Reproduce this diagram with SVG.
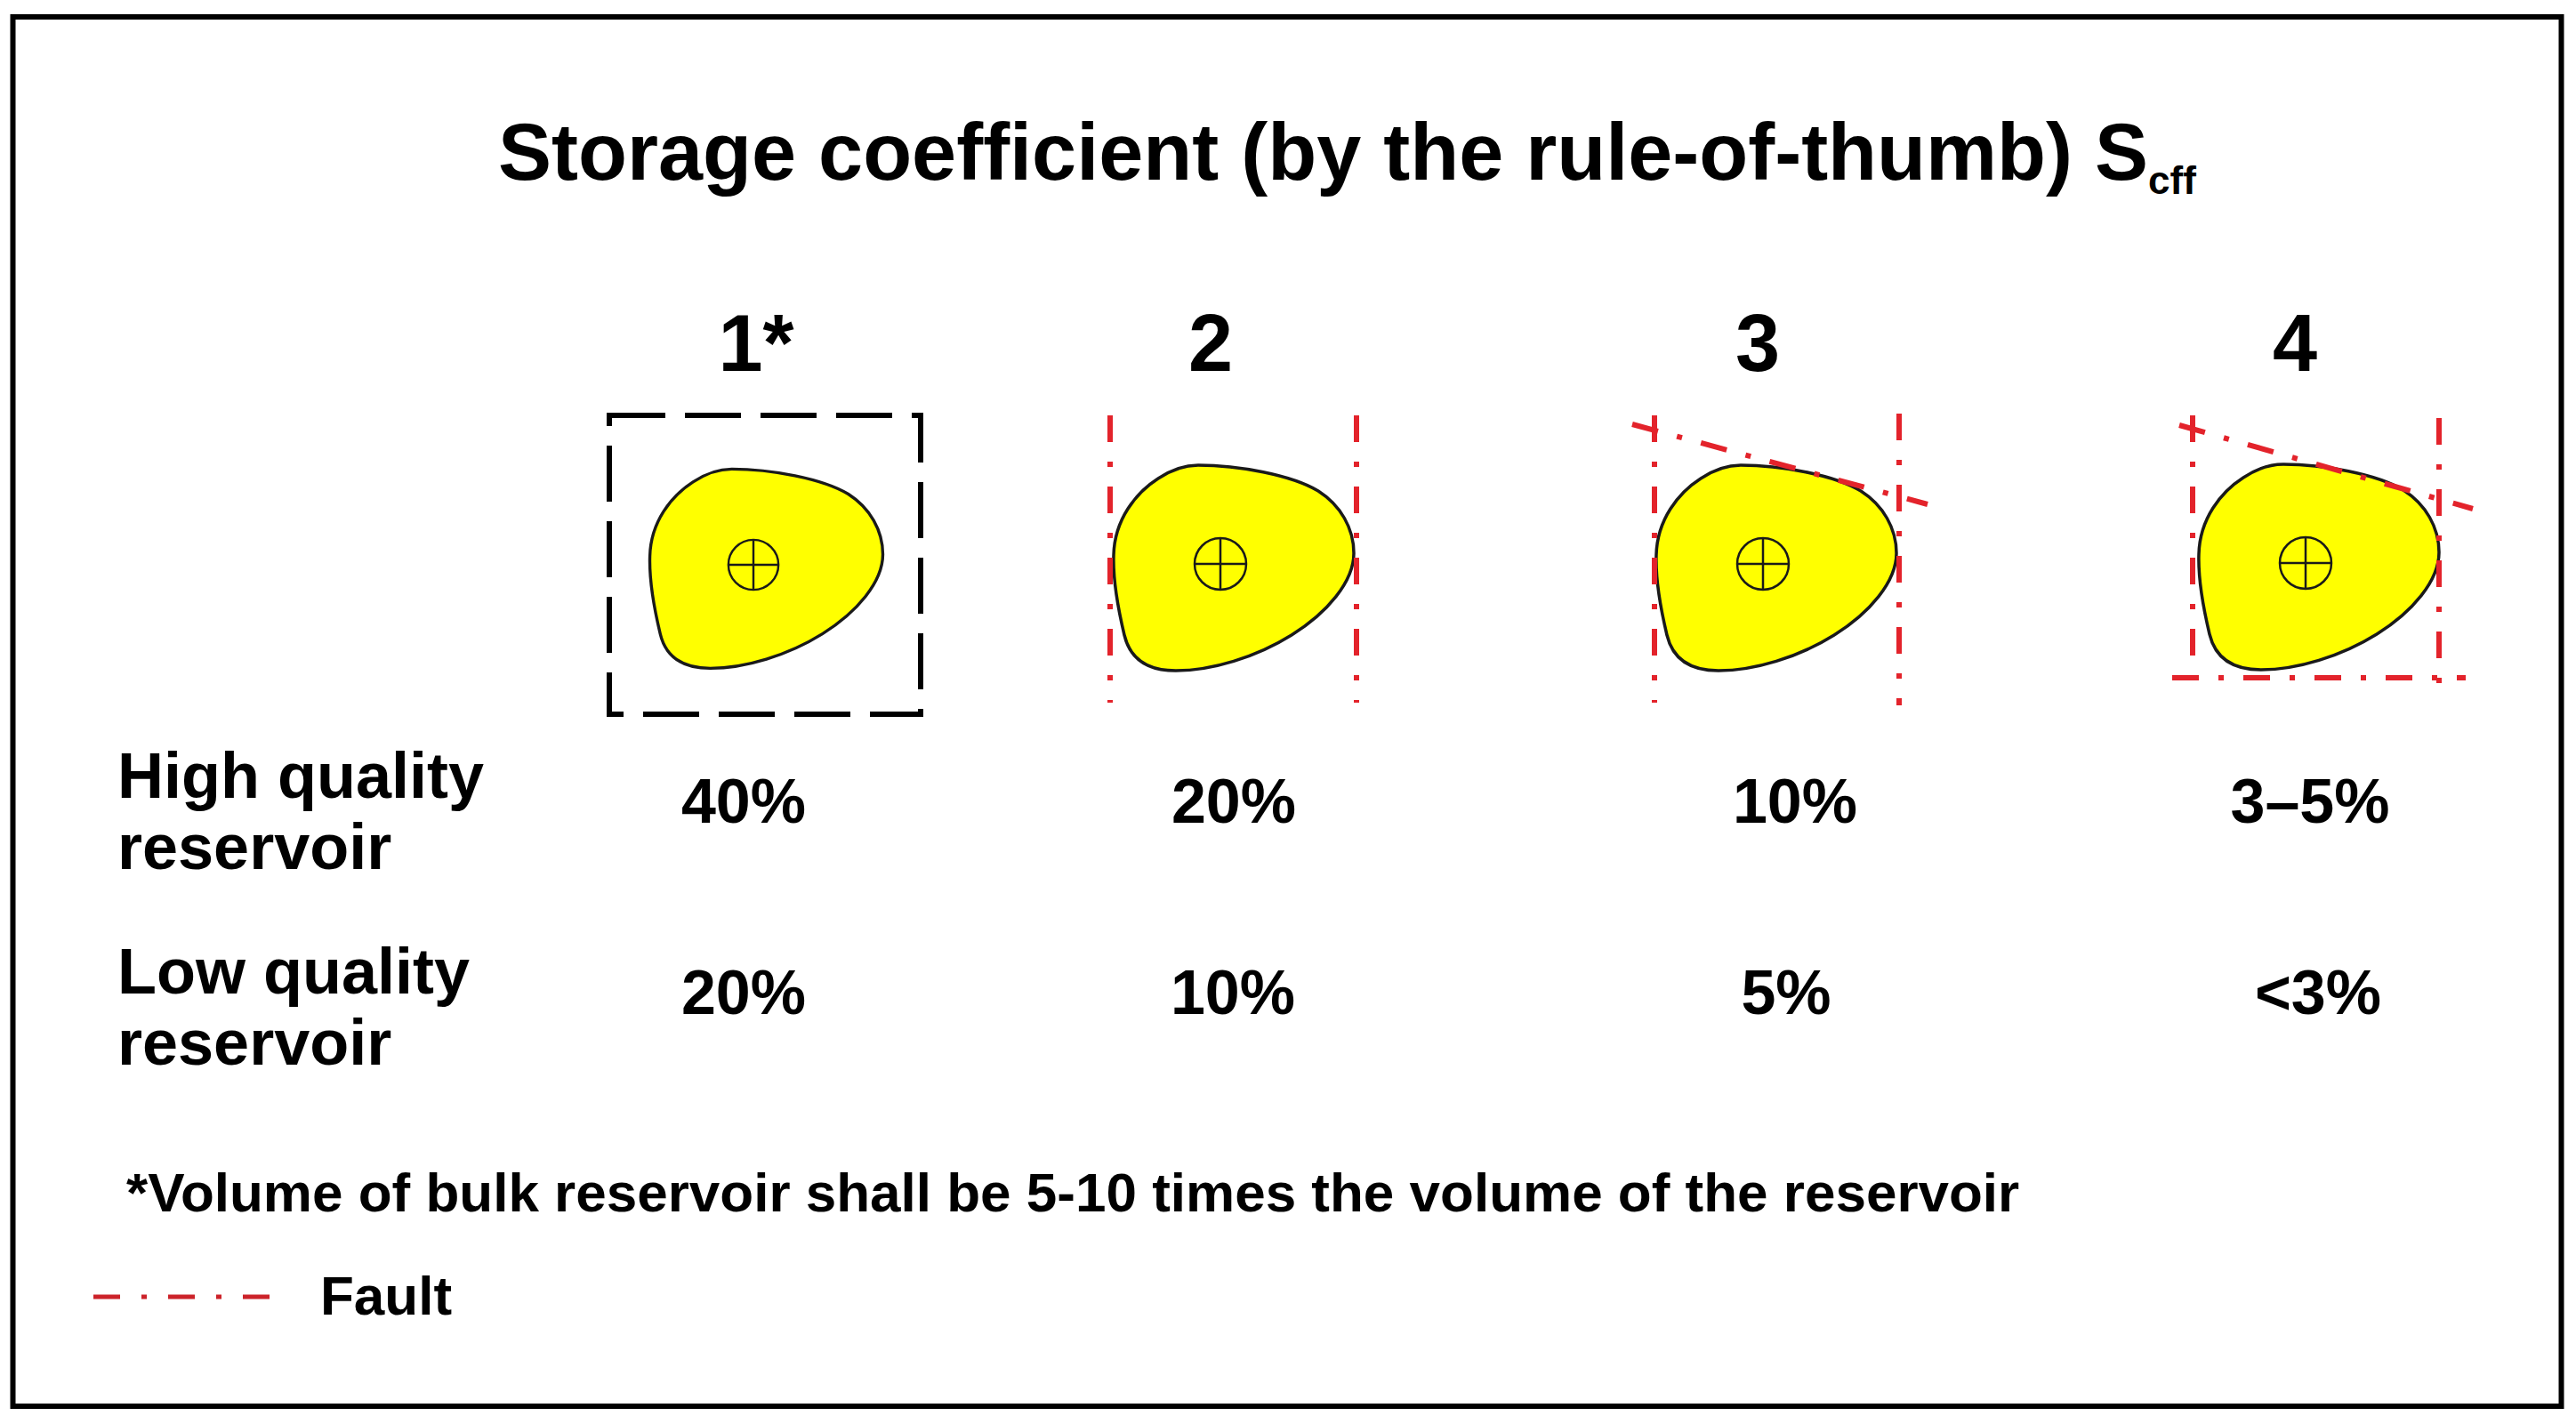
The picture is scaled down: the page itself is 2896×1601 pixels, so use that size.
<svg xmlns="http://www.w3.org/2000/svg" xmlns:xlink="http://www.w3.org/1999/xlink" width="2896" height="1601" viewBox="0 0 2896 1601">
<style>
text{font-family:"Liberation Sans",Arial,sans-serif;font-weight:bold;fill:#000}
.title{font-size:90px}
.num{font-size:90px;text-anchor:middle}
.lbl{font-size:72px}
.pct{font-size:70px;text-anchor:middle}
.note{font-size:62px}
.blob{fill:#ffff00;stroke:#1a1a1a;stroke-width:3.5}
.well{fill:none;stroke:#1a1a1a;stroke-width:2.5}
.fault{stroke:#e3232b;stroke-width:6;fill:none;stroke-dasharray:30 22 6 22}
.box{fill:none;stroke:#000;stroke-width:6;stroke-dasharray:63 22}
</style>
<defs>
<path id="blobShape" class="blob" d="M -25,-111 C 20,-111 80,-100 110,-82 C 135,-66 150,-40 150,-12 C 150,20 120,55 80,80 C 40,105 -10,120 -50,120 C -85,120 -102,105 -108,80 C -114,55 -121,20 -120,-10 C -119,-50 -95,-80 -70,-96 C -55,-106 -40,-111 -25,-111 Z"/>
<g id="wellSym">
<circle class="well" cx="0" cy="0" r="29"/>
<line class="well" x1="-29" y1="0" x2="29" y2="0"/>
<line class="well" x1="0" y1="-29" x2="0" y2="29"/>
</g>
</defs>
<rect x="14.5" y="19" width="2865" height="1562" fill="#fff" stroke="#000" stroke-width="6"/>
<text class="title" x="560" y="202">Storage coefficient (by the rule-of-thumb) S<tspan font-size="44" dy="16">cff</tspan></text>

<g id="panel1">
<text class="num" x="850" y="417">1*</text>
<rect class="box" x="685" y="467" width="350" height="336"/>
<g transform="translate(847,635) scale(0.97)"><use xlink:href="#blobShape"/><use xlink:href="#wellSym"/></g>
</g>

<g id="panel2">
<text class="num" x="1361" y="417">2</text>
<g transform="translate(1372,634)"><use xlink:href="#blobShape"/><use xlink:href="#wellSym"/></g>
<line class="fault" x1="1248" y1="467" x2="1248" y2="790"/>
<line class="fault" x1="1525" y1="467" x2="1525" y2="790"/>
</g>

<g id="panel3">
<text class="num" x="1976" y="417">3</text>
<g transform="translate(1982,634)"><use xlink:href="#blobShape"/><use xlink:href="#wellSym"/></g>
<line class="fault" x1="1860" y1="467" x2="1860" y2="790"/>
<line class="fault" x1="2135" y1="465" x2="2135" y2="793"/>
<line class="fault" x1="1835" y1="477" x2="2167" y2="567"/>
</g>

<g id="panel4">
<text class="num" x="2580" y="417">4</text>
<g transform="translate(2592,633)"><use xlink:href="#blobShape"/><use xlink:href="#wellSym"/></g>
<line class="fault" x1="2465" y1="467" x2="2465" y2="783"/>
<line class="fault" x1="2742" y1="470" x2="2742" y2="785"/>
<line class="fault" x1="2450" y1="478" x2="2780" y2="572"/>
<line class="fault" x1="2442" y1="762" x2="2772" y2="762"/>
</g>

<g id="rowLabels">
<text class="lbl" x="132" y="897">High quality</text>
<text class="lbl" x="132" y="977">reservoir</text>
<text class="lbl" x="132" y="1117">Low quality</text>
<text class="lbl" x="132" y="1197">reservoir</text>
</g>

<g id="values">
<text class="pct" x="836" y="925">40%</text>
<text class="pct" x="1387" y="925">20%</text>
<text class="pct" x="2018" y="925">10%</text>
<text class="pct" x="2597" y="925">3–5%</text>
<text class="pct" x="836" y="1140">20%</text>
<text class="pct" x="1386" y="1140">10%</text>
<text class="pct" x="2008" y="1140">5%</text>
<text class="pct" x="2606" y="1140">&lt;3%</text>
</g>

<g id="footnote">
<text class="note" x="142" y="1362">*Volume of bulk reservoir shall be 5-10 times the volume of the reservoir</text>
</g>

<g id="legend">
<line x1="105" y1="1458" x2="303" y2="1458" stroke="#cc2229" stroke-width="5" stroke-dasharray="30 24 6 24"/>
<text class="note" x="360" y="1478">Fault</text>
</g>
</svg>
